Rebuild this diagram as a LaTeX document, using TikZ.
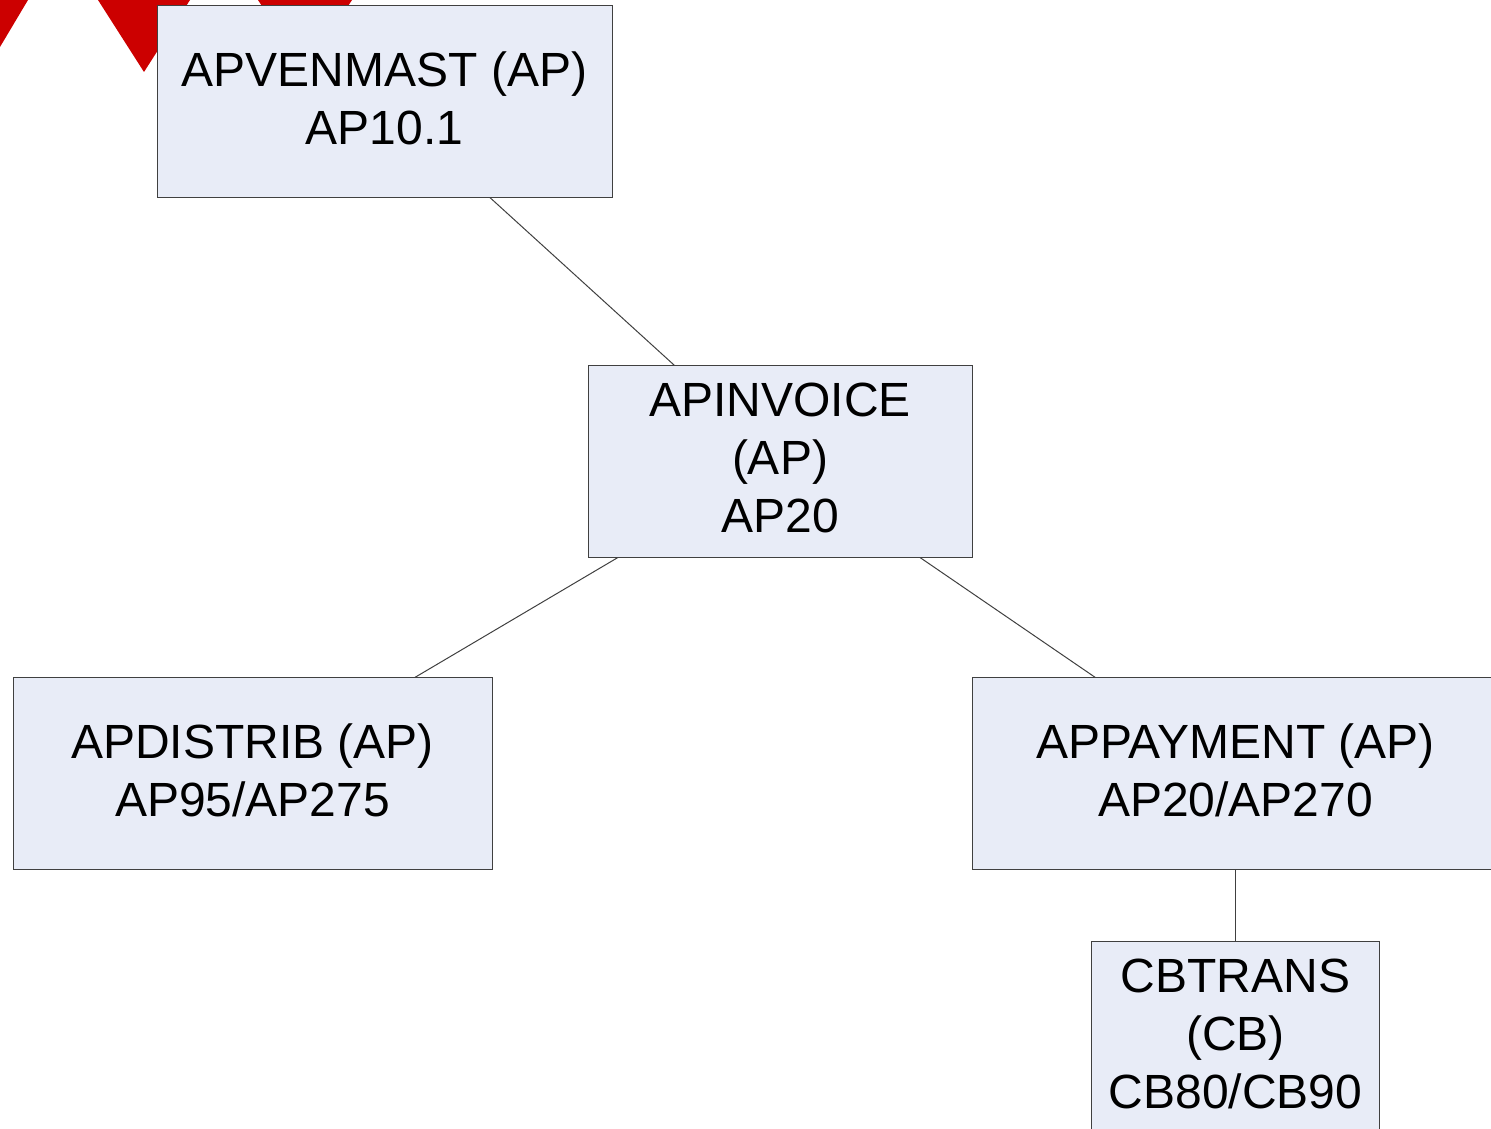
\documentclass[tikz,border=0pt]{standalone}
\usepackage{fontspec}
\setmainfont{Liberation Sans}
\usetikzlibrary{positioning}
\definecolor{boxfill}{HTML}{E8ECF7}
\definecolor{markred}{HTML}{CC0000}
\tikzset{
tablebox/.style={draw=black!75, line width=1pt, fill=boxfill, text=black, inner sep=0pt, outer sep=0pt, minimum height=192pt, align=center, font=\fontsize{48}{58}\selectfont, execute at end node={\rule[-7pt]{0pt}{7pt}}},
link/.style={draw=black!75, line width=1pt}
}
\begin{document}
\begin{tikzpicture}[x=1pt,y=1pt]
\useasboundingbox (0,0) rectangle (1491,-1129);
\fill[markred] (-20,-47) -- (0,-47) -- (28,0) -- (-20,0) -- cycle;
\fill[markred] (98,0) -- (144,-72) -- (190,0) -- cycle;
\fill[markred] (258,0) -- (305,-72) -- (352,0) -- cycle;
\node[tablebox, minimum width=455pt] at (384.5,-101.5) (apvenmast) {APVENMAST (AP)\\AP10.1};
\node[tablebox, minimum width=384pt, below right=168pt and -24pt of apvenmast] (apinvoice) {APINVOICE\\(AP)\\AP20};
\node[tablebox, minimum width=479pt, below left=120pt and 96pt of apinvoice] (apdistrib) {APDISTRIB (AP)\\AP95/AP275};
\node[tablebox, minimum width=527pt, below right=120pt and 0pt of apinvoice] (appayment) {APPA{}YMENT (AP)\\AP20/AP270};
\node[tablebox, minimum width=288pt, below=72pt of appayment] (cbtrans) {CBTRANS\\(CB)\\CB80/CB90};
\draw[link] (apvenmast)--(apinvoice);
\draw[link] (apinvoice)--(apdistrib);
\draw[link] (apinvoice)--(appayment);
\draw[link] (appayment)--(cbtrans);
\end{tikzpicture}
\end{document}
